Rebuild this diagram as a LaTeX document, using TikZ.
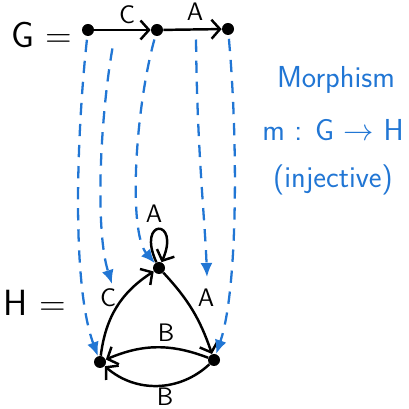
\documentclass[tikz,border=0pt]{standalone}
\usepackage{amsmath}
\usepackage{tikz}
\tikzset{
	vertex/.style={circle,fill=black,inner sep=0pt,minimum size=0.24cm}
}
\usetikzlibrary{arrows.meta}
\usepackage{xcolor}
\definecolor{morphblue}{RGB}{33,118,212}
\tikzset{
	arc/.style={line width=1.4pt,-{Straight Barb[length=1.7mm,width=3.8mm]}},
	morph/.style={morphblue,line width=1.3pt,dash pattern=on 7pt off 5pt,
		shorten <=2pt,-{Latex[length=2.8mm,width=2.4mm]}},
	lab/.style={font=\sffamily\Large,inner sep=0pt},
	big/.style={font=\sffamily\huge},
	note/.style={morphblue,font=\sffamily\LARGE}
}

\begin{document}
\begin{tikzpicture}
\useasboundingbox (0,0) rectangle (8.16,8.18);
\begin{scope}[every node/.style=vertex]
\node (g1) at (1.76,7.58) {};
\node (g2) at (3.14,7.58) {};
\node (g3) at (4.56,7.60) {};
\node (h1) at (3.18,2.82) {};
\node (h2) at (4.28,0.98) {};
\node (h3) at (2.00,0.94) {};
\end{scope}
%graph G
\draw[arc] (g1) to (g2);
\draw[arc] (g2) to (g3);
\node[lab] (gC) at (2.54,7.88) {C};
\node[lab] (gA) at (3.90,7.94) {A};
\node[big] (Glab) at (0.84,7.48) {G =};
%graph H
\draw[arc] (h1) .. controls (2.72,3.82) and (3.62,3.82) .. (h1);
\draw[arc] (h3) to[bend left=25] (h1);
\draw[arc] (h1) to[bend left=12] (h2);
\draw[arc] (h2) to[bend right=22] (h3);
\draw[arc] (h2) to[bend left=42] (h3);
\node[lab] (hA1) at (3.08,3.90) {A};
\node[lab] (hC) at (2.16,2.22) {C};
\node[lab] (hA2) at (4.12,2.22) {A};
\node[lab] (hB1) at (3.32,1.52) {B};
\node[lab] (hB2) at (3.30,0.24) {B};
\node[big] (Hlab) at (0.70,2.12) {H =};
%the morphism m
\coordinate (gc) at (2.26,7.28);
\coordinate (ga) at (3.92,7.46);
\coordinate (hc) at (2.24,2.50);
\coordinate (ha) at (4.14,2.64);
\draw[morph] (g1) .. controls (1.56,5.78) and (1.40,2.58) .. (h3);
\draw[morph] (gc) .. controls (2.00,5.78) and (1.90,3.58) .. (hc);
\draw[morph] (g2) .. controls (2.70,5.98) and (2.56,3.54) .. (h1);
\draw[morph] (ga) .. controls (3.94,5.18) and (4.10,3.78) .. (ha);
\draw[morph] (g3) .. controls (4.76,5.38) and (4.76,2.38) .. (h2);
%
\node[note] (mname) at (6.72,6.58) {Morphism};
\node[note] (mmap) at (6.66,5.58) {m : G $\rightarrow$ H};
\node[note] (minj) at (6.66,4.58) {(injective)};
\end{tikzpicture}
\end{document}
